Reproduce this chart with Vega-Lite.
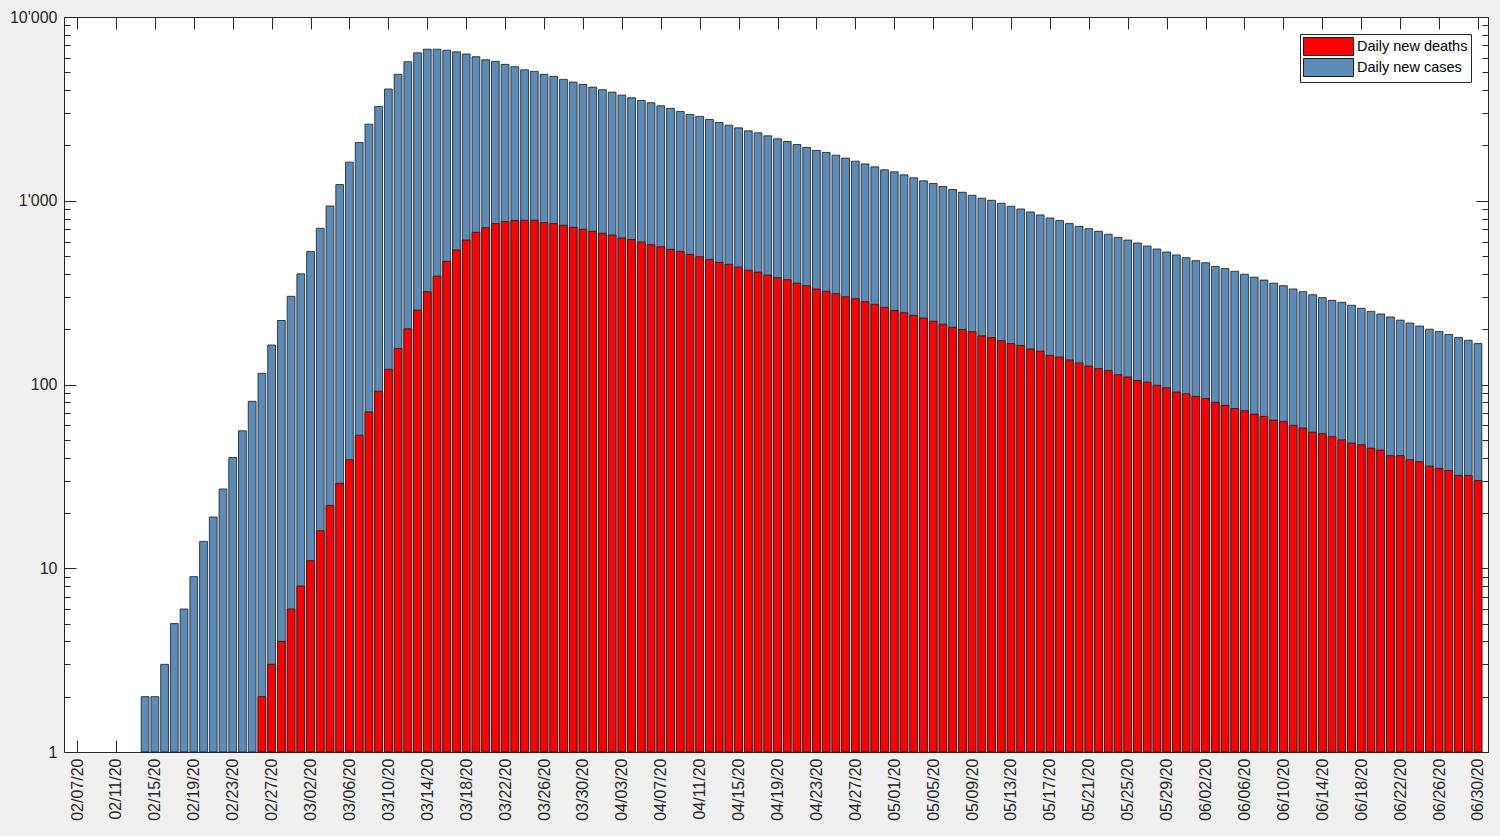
{
  "$schema": "https://vega.github.io/schema/vega-lite/v6.json",
  "width": 1424,
  "height": 735,
  "autosize": "none",
  "padding": {"left": 64, "top": 17, "right": 12, "bottom": 84},
  "background": "#f0f0f0",
  "config": {
    "view": {"stroke": "#262626", "strokeWidth": 1, "fill": "white"},
    "axis": {"domain": false, "grid": false, "tickColor": "#262626", "tickWidth": 1, "labelColor": "#262626", "labelFont": "Liberation Sans", "labelFontSize": 16, "title": null}
  },
  "data": {"values": [
    {"date":"2020-02-14","cases":2},{"date":"2020-02-15","cases":2},{"date":"2020-02-16","cases":3},{"date":"2020-02-17","cases":5},
    {"date":"2020-02-18","cases":6},{"date":"2020-02-19","cases":9},{"date":"2020-02-20","cases":14},{"date":"2020-02-21","cases":19},
    {"date":"2020-02-22","cases":27},{"date":"2020-02-23","cases":40},{"date":"2020-02-24","cases":56},{"date":"2020-02-25","cases":81},
    {"date":"2020-02-26","cases":115,"deaths":2},{"date":"2020-02-27","cases":164,"deaths":3},{"date":"2020-02-28","cases":223,"deaths":4},{"date":"2020-02-29","cases":302,"deaths":6},
    {"date":"2020-03-01","cases":400,"deaths":8},{"date":"2020-03-02","cases":529,"deaths":11},{"date":"2020-03-03","cases":708,"deaths":16},{"date":"2020-03-04","cases":937,"deaths":22},
    {"date":"2020-03-05","cases":1225,"deaths":29},{"date":"2020-03-06","cases":1622,"deaths":39},{"date":"2020-03-07","cases":2075,"deaths":53},{"date":"2020-03-08","cases":2611,"deaths":71},
    {"date":"2020-03-09","cases":3260,"deaths":92},{"date":"2020-03-10","cases":4055,"deaths":121},{"date":"2020-03-11","cases":4878,"deaths":157},{"date":"2020-03-12","cases":5704,"deaths":201},
    {"date":"2020-03-13","cases":6380,"deaths":254},{"date":"2020-03-14","cases":6680,"deaths":320},{"date":"2020-03-15","cases":6680,"deaths":389},{"date":"2020-03-16","cases":6600,"deaths":468},
    {"date":"2020-03-17","cases":6460,"deaths":540},{"date":"2020-03-18","cases":6287,"deaths":611},{"date":"2020-03-19","cases":6078,"deaths":673},{"date":"2020-03-20","cases":5853,"deaths":714},
    {"date":"2020-03-21","cases":5736,"deaths":751},{"date":"2020-03-22","cases":5525,"deaths":770},{"date":"2020-03-23","cases":5359,"deaths":780},{"date":"2020-03-24","cases":5160,"deaths":783},
    {"date":"2020-03-25","cases":5059,"deaths":783},{"date":"2020-03-26","cases":4875,"deaths":760},{"date":"2020-03-27","cases":4754,"deaths":751},{"date":"2020-03-28","cases":4575,"deaths":735},
    {"date":"2020-03-29","cases":4423,"deaths":717},{"date":"2020-03-30","cases":4300,"deaths":700},{"date":"2020-03-31","cases":4154,"deaths":682},{"date":"2020-04-01","cases":4018,"deaths":666},
    {"date":"2020-04-02","cases":3902,"deaths":651},{"date":"2020-04-03","cases":3756,"deaths":627},{"date":"2020-04-04","cases":3634,"deaths":615},{"date":"2020-04-05","cases":3515,"deaths":597},
    {"date":"2020-04-06","cases":3413,"deaths":577},{"date":"2020-04-07","cases":3285,"deaths":562},{"date":"2020-04-08","cases":3180,"deaths":544},{"date":"2020-04-09","cases":3062,"deaths":531},
    {"date":"2020-04-10","cases":2951,"deaths":511},{"date":"2020-04-11","cases":2877,"deaths":496},{"date":"2020-04-12","cases":2770,"deaths":480},{"date":"2020-04-13","cases":2668,"deaths":462},
    {"date":"2020-04-14","cases":2579,"deaths":451},{"date":"2020-04-15","cases":2493,"deaths":436},{"date":"2020-04-16","cases":2401,"deaths":419},{"date":"2020-04-17","cases":2342,"deaths":409},
    {"date":"2020-04-18","cases":2256,"deaths":394},{"date":"2020-04-19","cases":2173,"deaths":381},{"date":"2020-04-20","cases":2101,"deaths":372},{"date":"2020-04-21","cases":2024,"deaths":356},
    {"date":"2020-04-22","cases":1950,"deaths":345},{"date":"2020-04-23","cases":1878,"deaths":331},{"date":"2020-04-24","cases":1832,"deaths":322},{"date":"2020-04-25","cases":1770,"deaths":312},
    {"date":"2020-04-26","cases":1706,"deaths":300},{"date":"2020-04-27","cases":1642,"deaths":293},{"date":"2020-04-28","cases":1587,"deaths":282},{"date":"2020-04-29","cases":1529,"deaths":273},
    {"date":"2020-04-30","cases":1473,"deaths":263},{"date":"2020-05-01","cases":1436,"deaths":253},{"date":"2020-05-02","cases":1383,"deaths":246},{"date":"2020-05-03","cases":1332,"deaths":238},
    {"date":"2020-05-04","cases":1283,"deaths":230},{"date":"2020-05-05","cases":1241,"deaths":221},{"date":"2020-05-06","cases":1195,"deaths":213},{"date":"2020-05-07","cases":1151,"deaths":205},
    {"date":"2020-05-08","cases":1112,"deaths":199},{"date":"2020-05-09","cases":1071,"deaths":194},{"date":"2020-05-10","cases":1032,"deaths":184},{"date":"2020-05-11","cases":1006,"deaths":180},
    {"date":"2020-05-12","cases":969,"deaths":173},{"date":"2020-05-13","cases":933,"deaths":167},{"date":"2020-05-14","cases":902,"deaths":163},{"date":"2020-05-15","cases":869,"deaths":156},
    {"date":"2020-05-16","cases":837,"deaths":152},{"date":"2020-05-17","cases":806,"deaths":144},{"date":"2020-05-18","cases":780,"deaths":141},{"date":"2020-05-19","cases":751,"deaths":136},
    {"date":"2020-05-20","cases":726,"deaths":131},{"date":"2020-05-21","cases":705,"deaths":126},{"date":"2020-05-22","cases":682,"deaths":122},{"date":"2020-05-23","cases":657,"deaths":119},
    {"date":"2020-05-24","cases":632,"deaths":113},{"date":"2020-05-25","cases":611,"deaths":110},{"date":"2020-05-26","cases":589,"deaths":105},{"date":"2020-05-27","cases":567,"deaths":103},
    {"date":"2020-05-28","cases":546,"deaths":99},{"date":"2020-05-29","cases":526,"deaths":96},{"date":"2020-05-30","cases":507,"deaths":91},{"date":"2020-05-31","cases":490,"deaths":89},
    {"date":"2020-06-01","cases":472,"deaths":86},{"date":"2020-06-02","cases":460,"deaths":84},{"date":"2020-06-03","cases":439,"deaths":80},{"date":"2020-06-04","cases":428,"deaths":77},
    {"date":"2020-06-05","cases":413,"deaths":74},{"date":"2020-06-06","cases":398,"deaths":72},{"date":"2020-06-07","cases":384,"deaths":69},{"date":"2020-06-08","cases":370,"deaths":67},
    {"date":"2020-06-09","cases":356,"deaths":64},{"date":"2020-06-10","cases":345,"deaths":63},{"date":"2020-06-11","cases":331,"deaths":60},{"date":"2020-06-12","cases":320,"deaths":58},
    {"date":"2020-06-13","cases":308,"deaths":55},{"date":"2020-06-14","cases":297,"deaths":54},{"date":"2020-06-15","cases":287,"deaths":52},{"date":"2020-06-16","cases":280,"deaths":50},
    {"date":"2020-06-17","cases":270,"deaths":48},{"date":"2020-06-18","cases":260,"deaths":47},{"date":"2020-06-19","cases":250,"deaths":45},{"date":"2020-06-20","cases":242,"deaths":44},
    {"date":"2020-06-21","cases":233,"deaths":41},{"date":"2020-06-22","cases":224,"deaths":41},{"date":"2020-06-23","cases":216,"deaths":39},{"date":"2020-06-24","cases":208,"deaths":38},
    {"date":"2020-06-25","cases":200,"deaths":36},{"date":"2020-06-26","cases":194,"deaths":35},{"date":"2020-06-27","cases":187,"deaths":34},{"date":"2020-06-28","cases":180,"deaths":32},
    {"date":"2020-06-29","cases":174,"deaths":32},{"date":"2020-06-30","cases":167,"deaths":30}
  ]},
  "resolve": {"axis": {"x": "independent", "y": "independent"}},
  "layer": [
    {
      "mark": {"type": "bar", "size": 7.8, "stroke": "#1a1a1a", "strokeWidth": 0.8, "opacity": 1},
      "encoding": {
        "x": {"field": "date", "type": "temporal",
          "scale": {"type": "utc", "domain": [1580917824000, 1593564192000], "nice": false, "padding": 0},
          "axis": {"orient": "bottom", "format": "%m/%d/%y", "labelAngle": 270, "labelAlign": "right", "labelBaseline": "middle", "tickSize": -12, "labelPadding": 18,
            "values": [1581033600000,1581379200000,1581724800000,1582070400000,1582416000000,1582761600000,1583107200000,1583452800000,1583798400000,1584144000000,1584489600000,1584835200000,1585180800000,1585526400000,1585872000000,1586217600000,1586563200000,1586908800000,1587254400000,1587600000000,1587945600000,1588291200000,1588636800000,1588982400000,1589328000000,1589673600000,1590019200000,1590364800000,1590710400000,1591056000000,1591401600000,1591747200000,1592092800000,1592438400000,1592784000000,1593129600000,1593475200000]}},
        "y": {"field": "cases", "type": "quantitative",
          "scale": {"type": "log", "domain": [1, 10000], "nice": false},
          "axis": {"orient": "left", "format": "d", "labelPadding": 19,
            "tickSize": {"condition": {"test": "indexof([1,10,100,1000,10000], datum.value) >= 0", "value": -12}, "value": -6},
            "labelExpr": "datum.value == 10000 ? \"10'000\" : datum.value == 1000 ? \"1'000\" : indexof([1,10,100], datum.value) >= 0 ? datum.label : ''",
            "values": [1,2,3,4,5,6,7,8,9,10,20,30,40,50,60,70,80,90,100,200,300,400,500,600,700,800,900,1000,2000,3000,4000,5000,6000,7000,8000,9000,10000]}},
        "y2": {"datum": 1},
        "color": {"datum": "Daily new cases", "type": "nominal",
          "scale": {"domain": ["Daily new deaths", "Daily new cases"], "range": ["#ff0000", "#5b8bb6"]},
          "legend": {"orient": "none", "legendX": 1236, "legendY": 17, "title": null,
            "symbolType": "M-2.78,-1H2.78V1H-2.78Z", "symbolSize": 324, "symbolStrokeColor": "#1a1a1a", "symbolStrokeWidth": 1,
            "labelFont": "Liberation Sans", "labelFontSize": 14.5, "labelColor": "#000000",
            "strokeColor": "#262626", "fillColor": "white", "padding": 3, "rowPadding": -2, "symbolOffset": 16, "labelOffset": 19}}
      }
    },
    {
      "mark": {"type": "bar", "size": 7.8, "stroke": "#1a1a1a", "strokeWidth": 0.8, "opacity": 1},
      "encoding": {
        "x": {"field": "date", "type": "temporal", "axis": null},
        "y": {"field": "deaths", "type": "quantitative", "axis": null},
        "y2": {"datum": 1},
        "color": {"datum": "Daily new deaths", "type": "nominal"}
      }
    },
    {
      "mark": {"type": "bar", "size": 1, "opacity": 0},
      "encoding": {
        "x": {"field": "date", "type": "temporal",
          "axis": {"orient": "top", "labels": false, "tickSize": -12,
            "values": [1581033600000,1581379200000,1581724800000,1582070400000,1582416000000,1582761600000,1583107200000,1583452800000,1583798400000,1584144000000,1584489600000,1584835200000,1585180800000,1585526400000,1585872000000,1586217600000,1586563200000,1586908800000,1587254400000,1587600000000,1587945600000,1588291200000,1588636800000,1588982400000,1589328000000,1589673600000,1590019200000,1590364800000,1590710400000,1591056000000,1591401600000,1591747200000,1592092800000,1592438400000,1592784000000,1593129600000,1593475200000]}},
        "y": {"field": "cases", "type": "quantitative",
          "axis": {"orient": "right", "labels": false,
            "tickSize": {"condition": {"test": "indexof([1,10,100,1000,10000], datum.value) >= 0", "value": -12}, "value": -6},
            "values": [1,2,3,4,5,6,7,8,9,10,20,30,40,50,60,70,80,90,100,200,300,400,500,600,700,800,900,1000,2000,3000,4000,5000,6000,7000,8000,9000,10000]}}
      }
    }
  ]
}
